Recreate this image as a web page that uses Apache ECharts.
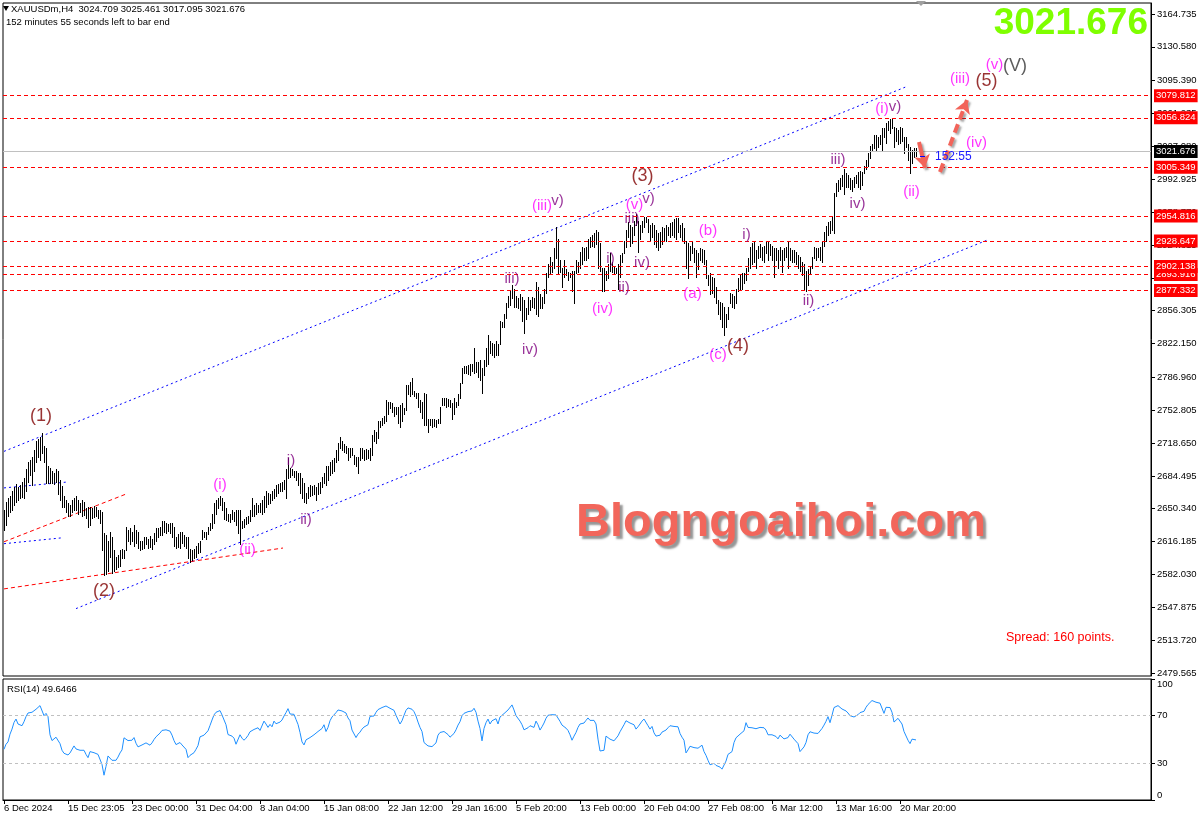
<!DOCTYPE html>
<html>
<head>
<meta charset="utf-8">
<title>XAUUSDm H4</title>
<script src="https://cdn.jsdelivr.net/npm/echarts@6/dist/echarts.min.js"></script>
<style>
html,body{margin:0;padding:0;background:#fff;overflow:hidden}
#chart{width:1202px;height:824px}
</style>
</head>
<body>
<div id="chart"></div>
<script>
// ---------------- DATA ----------------
const symbolName = 'XAUUSDm,H4';
const lastBarOHLC = [3024.709, 3025.461, 3017.095, 3021.676];
const lastPrice = 3021.676;
const countdown = '152:55';
const countdownText = '152 minutes 55 seconds left to bar end';
const spreadPoints = 160;
const rsiPeriod = 14;
const rsiLast = 49.6466;

const xLabels = ['6 Dec 2024','15 Dec 23:05','23 Dec 00:00','31 Dec 04:00','8 Jan 04:00','15 Jan 08:00','22 Jan 12:00','29 Jan 16:00','5 Feb 20:00','13 Feb 00:00','20 Feb 04:00','27 Feb 08:00','6 Mar 12:00','13 Mar 16:00','20 Mar 20:00'];
const xLabelStep = 32;
const priceTicks = [3164.735,3130.580,3095.390,3061.235,3027.080,2992.925,2958.770,2924.615,2890.460,2856.305,2822.150,2786.960,2752.805,2718.650,2684.495,2650.340,2616.185,2582.030,2547.875,2513.720,2479.565];
const rsiTicks = [0, 30, 70, 100];
const rsiLevels = [30, 70];
const levelLines = [3079.812, 3056.824, 3005.349, 2954.816, 2928.647, 2893.916, 2902.138, 2877.332];

const highs = [
2649,2657,2662,2664,2669,2673,2676,2673,2675,2678,
2682,2692,2699,2701,2704,2711,2721,2723,2725,2729,
2716,2713,2695,2693,2690,2688,2692,2690,2680,2674,
2664,2659,2656,2654,2659,2662,2664,2659,2656,2659,
2657,2651,2652,2652,2651,2653,2652,2649,2649,2647,
2625,2623,2617,2626,2621,2607,2600,2602,2607,2609,
2607,2631,2628,2630,2626,2633,2628,2626,2617,2617,
2621,2621,2619,2622,2619,2625,2630,2630,2631,2638,
2638,2636,2634,2635,2636,2631,2621,2624,2626,2626,
2623,2621,2621,2609,2607,2609,2612,2615,2617,2628,
2626,2626,2631,2636,2645,2656,2659,2662,2664,2662,
2657,2651,2645,2645,2649,2647,2649,2649,2649,2638,
2640,2642,2643,2649,2662,2654,2656,2654,2656,2659,
2664,2669,2667,2666,2669,2671,2675,2676,2677,2678,
2680,2692,2703,2693,2692,2690,2690,2688,2687,2682,
2677,2667,2673,2675,2674,2675,2673,2677,2678,2683,
2687,2695,2695,2699,2701,2703,2711,2719,2725,2721,
2718,2716,2714,2714,2713,2706,2704,2704,2713,2713,
2711,2712,2711,2713,2727,2732,2730,2742,2742,2745,
2747,2763,2761,2761,2760,2756,2756,2756,2758,2760,
2755,2779,2779,2782,2786,2773,2771,2771,2763,2761,
2771,2770,2744,2744,2744,2744,2743,2744,2756,2765,
2765,2765,2764,2763,2760,2766,2761,2770,2781,2797,
2799,2799,2800,2801,2801,2817,2803,2803,2805,2797,
2805,2817,2831,2825,2823,2822,2825,2822,2846,2844,
2853,2864,2872,2877,2883,2879,2872,2869,2874,2870,
2867,2859,2870,2867,2870,2869,2886,2881,2874,2870,
2879,2895,2905,2912,2907,2921,2943,2931,2909,2901,
2909,2900,2896,2895,2898,2898,2909,2907,2917,2922,
2921,2922,2931,2933,2935,2937,2940,2938,2927,2901,
2901,2898,2905,2916,2907,2903,2901,2905,2914,2916,
2929,2940,2948,2945,2943,2950,2957,2950,2945,2950,
2954,2954,2952,2945,2947,2945,2940,2937,2938,2943,
2942,2945,2943,2947,2948,2952,2953,2953,2945,2947,
2942,2929,2927,2924,2929,2921,2919,2916,2921,2920,
2919,2909,2893,2895,2891,2890,2881,2867,2865,2864,
2860,2853,2860,2875,2874,2872,2879,2890,2893,2895,
2895,2901,2911,2922,2927,2929,2919,2924,2926,2922,
2924,2929,2929,2926,2924,2921,2921,2919,2922,2919,
2921,2922,2929,2921,2919,2919,2917,2914,2912,2907,
2905,2898,2900,2903,2912,2922,2921,2921,2922,2929,
2938,2944,2948,2950,2955,2979,2989,2992,2994,2997,
3004,2999,2997,2994,2992,2995,2997,3000,3002,3000,
3007,3013,3020,3028,3030,3039,3039,3037,3039,3046,
3046,3051,3054,3056,3056,3047,3046,3044,3047,3046,
3037,3037,3030,3026,3023,3025,3025.461
];
const lows = [
2628,2633,2643,2647,2649,2654,2657,2659,2662,2663,
2661,2669,2678,2685,2675,2690,2699,2704,2701,2708,
2699,2677,2677,2677,2677,2676,2678,2666,2659,2652,
2652,2647,2643,2643,2647,2649,2649,2645,2647,2643,
2644,2641,2631,2633,2641,2642,2643,2641,2636,2607,
2581,2583,2586,2600,2584,2586,2588,2590,2591,2599,
2599,2607,2617,2614,2617,2612,2615,2610,2607,2609,
2610,2614,2610,2611,2609,2614,2617,2621,2623,2623,
2626,2625,2627,2625,2621,2612,2610,2611,2610,2615,
2612,2610,2599,2595,2597,2599,2600,2604,2605,2619,
2621,2619,2624,2628,2630,2636,2645,2651,2654,2649,
2640,2639,2638,2637,2640,2638,2633,2625,2614,2630,
2631,2634,2636,2638,2643,2643,2645,2647,2647,2645,
2647,2652,2655,2656,2659,2661,2664,2667,2669,2669,
2671,2662,2682,2683,2685,2683,2680,2675,2667,2662,
2657,2656,2661,2664,2665,2666,2659,2666,2667,2673,
2677,2675,2680,2685,2687,2690,2699,2701,2713,2711,
2709,2708,2701,2704,2706,2697,2695,2688,2701,2703,
2701,2702,2703,2701,2706,2721,2719,2724,2735,2737,
2739,2742,2749,2755,2751,2747,2749,2739,2735,2742,
2749,2753,2770,2768,2770,2768,2765,2756,2751,2745,
2737,2737,2730,2737,2735,2736,2735,2740,2740,2758,
2758,2756,2757,2756,2744,2749,2756,2758,2766,2781,
2791,2791,2790,2789,2794,2791,2792,2787,2784,2771,
2789,2799,2801,2812,2810,2808,2810,2810,2822,2839,
2839,2849,2860,2862,2869,2860,2860,2859,2857,2846,
2833,2848,2853,2857,2860,2859,2853,2851,2859,2859,
2864,2875,2891,2895,2896,2901,2911,2895,2896,2881,
2891,2893,2888,2891,2877,2864,2895,2896,2901,2905,
2909,2909,2911,2922,2924,2922,2926,2901,2898,2877,
2877,2888,2890,2898,2896,2895,2895,2879,2891,2907,
2916,2922,2933,2924,2927,2935,2945,2917,2931,2938,
2943,2948,2938,2929,2933,2926,2922,2919,2922,2926,
2929,2929,2935,2933,2935,2933,2931,2938,2933,2929,
2927,2901,2890,2909,2916,2907,2891,2900,2909,2907,
2905,2890,2883,2874,2875,2870,2864,2853,2848,2839,
2831,2839,2848,2864,2860,2859,2864,2877,2879,2879,
2885,2888,2898,2901,2905,2907,2901,2911,2912,2909,
2907,2916,2909,2914,2909,2891,2909,2901,2909,2896,
2909,2912,2901,2909,2907,2907,2905,2901,2898,2893,
2879,2877,2883,2895,2901,2911,2909,2912,2909,2907,
2924,2929,2935,2937,2940,2937,2976,2981,2983,2986,
2978,2985,2985,2983,2981,2985,2989,2985,2983,2987,
2999,3004,3007,3015,3023,3025,3023,3026,3030,3023,
3037,3031,3044,3041,3046,3026,3033,3030,3031,3033,
3020,3026,3013,2999,3010,3016,3017.095
];
const rsi = [
41.9,46.1,48.0,54.4,58.6,64.1,66.9,62.8,63.3,61.4,
64.7,68.9,71.9,71.6,72.5,73.6,75.0,76.4,78.0,77.7,
69.7,71.6,68.9,53.9,49.1,50.5,51.9,52.2,46.6,41.1,
38.6,37.2,37.2,38.9,40.5,44.7,42.2,40.8,41.1,40.5,
41.1,37.7,35.0,40.0,40.5,39.1,39.4,37.7,37.2,29.4,
20.5,27.8,36.4,37.7,32.8,31.4,32.8,35.5,38.9,41.4,
51.4,50.0,49.1,50.0,49.4,51.6,46.9,43.9,43.6,45.5,
46.4,47.2,45.8,45.3,47.2,50.0,52.2,53.6,55.3,57.5,
58.9,58.0,57.8,56.9,53.6,49.1,45.8,46.6,47.5,45.5,
44.4,41.9,35.0,36.9,37.7,39.1,41.9,45.0,52.2,53.6,
53.6,54.1,57.2,61.6,66.1,70.3,72.5,73.3,73.9,70.3,
68.9,62.2,54.1,53.0,52.8,51.1,46.1,47.2,53.9,51.1,
49.4,51.1,53.3,56.4,57.8,58.3,59.1,59.7,57.5,58.6,
65.2,62.8,60.0,62.5,60.5,65.2,63.0,64.1,64.4,66.1,
69.4,72.2,75.5,71.1,70.0,70.8,66.6,62.5,55.8,48.0,
45.5,49.7,50.8,51.6,52.2,53.9,55.3,56.6,57.5,59.1,
62.2,56.6,60.0,65.5,68.6,70.0,72.2,74.4,74.4,73.6,
72.8,71.9,67.8,65.5,57.8,56.9,51.6,54.4,56.1,58.6,
60.3,61.1,62.2,69.1,70.3,69.4,72.5,74.7,75.5,76.4,
76.6,77.7,78.0,75.8,76.4,74.1,70.0,68.9,62.8,65.5,
70.0,74.1,76.1,75.8,75.0,73.0,69.4,64.4,60.0,56.6,
47.5,47.5,44.7,44.7,44.1,44.4,47.2,53.6,55.8,57.2,
56.6,55.8,54.1,51.9,53.3,55.0,58.0,61.9,64.7,69.7,
71.6,72.5,73.0,73.0,73.6,75.8,72.5,65.2,59.1,48.9,
59.1,63.9,66.9,62.8,65.5,65.8,67.2,62.8,68.6,70.0,
71.4,73.0,74.4,75.8,78.6,74.4,69.7,68.9,65.2,62.2,
58.0,58.3,59.7,61.4,62.8,60.0,65.2,62.2,57.8,60.5,
63.6,67.5,70.0,71.1,70.5,69.7,70.3,69.7,65.0,61.9,
61.4,59.4,57.5,53.9,49.4,52.8,55.8,60.0,62.8,64.1,
63.6,65.8,67.8,65.8,66.6,65.8,62.8,50.3,40.5,41.9,
41.1,52.8,51.6,50.3,49.4,48.9,50.5,53.0,56.4,57.8,
62.2,65.5,64.1,63.6,62.2,62.2,58.6,60.5,62.8,65.2,
66.9,67.8,61.4,58.6,60.8,55.5,52.8,51.9,53.6,56.1,
57.2,57.8,59.7,61.4,62.2,60.8,61.1,60.5,55.0,51.9,
49.4,38.9,41.4,44.4,43.9,43.3,41.9,42.8,43.6,45.3,
40.0,36.9,32.8,29.1,28.9,30.3,28.6,27.5,27.2,25.5,
26.1,32.2,37.7,38.3,40.0,47.5,51.4,52.8,54.4,53.0,
57.2,63.9,60.0,58.9,59.7,58.6,58.9,60.0,60.0,60.0,
59.7,57.8,53.9,52.5,53.9,54.4,52.5,50.5,53.6,53.3,
50.5,49.1,51.6,54.4,53.0,50.3,48.9,46.6,40.0,38.9,
43.9,47.5,53.9,56.4,56.6,55.3,55.0,55.0,56.4,59.1,
61.9,65.0,68.9,63.9,70.0,76.4,77.2,78.0,78.6,75.2,
75.0,73.6,71.9,69.7,69.4,68.6,68.9,70.5,72.2,72.5,
73.3,76.6,78.9,80.3,82.2,81.1,80.8,79.4,80.0,79.4,
71.6,76.6,77.7,76.4,72.5,64.4,65.8,67.5,67.8,62.8,
56.6,55.3,49.4,46.6,50.3,51.1,49.6466
];

// Elliott-wave annotations (anchor = bar index, price)
const waveText  = ['(1)','(2)','(i)','(ii)','i)','ii)','iii)','iv)','(iii)','v)','(iv)','i)','ii)','iii)','(v)','v)','(3)','iv)','(b)','(a)','(c)','(4)','i)','ii)','iii)','iv)','(i)','v)','(ii)','(iv)','(iii)','(5)','(v)','(V)'];
const waveBar   = [18.5,50,108,121.75,143.5,151,254,263,269,276.75,299.25,303.25,310,314,315.25,322.25,319.25,319,352,344.25,357,367,371.25,402.25,417,426.75,439,445.5,453.75,486.25,478,491.25,495.25,505.5];
const wavePrice = [2747,2565,2675,2607.5,2700,2639,2889.7,2815.4,2965,2970.3,2858.5,2910.5,2880.4,2951.6,2966.2,2972.9,2996.3,2905.9,2939.1,2874.1,2810.7,2819.6,2935.5,2866.9,3012.9,2967.2,3066.5,3068.6,2979.7,3031.1,3097.7,3094.6,3111.7,3110.2];
const waveDegree = ['P','P','m','m','s','s','s','s','m','s','m','s','s','s','m','s','P','s','m','m','m','P','s','s','s','s','m','s','m','m','m','P','m','C'];

// trend / channel lines: [bar1, bar2], [price1, price2]
const trendBars   = [[0,451],[36,492],[0,31],[0,28.5],[0,61.5],[0,139.5]];
const trendPrices = [[2710,3089],[2546.5,2930],[2672,2678],[2614,2620],[2616,2666],[2567,2609.5]];
const trendKind   = ['blue','blue','blue','blue','red','red'];

// projection arrows
const arrowBars   = [[457.5,460.5],[468,481.5]];
const arrowPrices = [[3031.7,3004.6],[3000.5,3075.3]];
const arrowKind   = ['solid','dashed'];

// ---------------- LAYOUT / STYLE ----------------
const SLOTS = 574;              // bar slots incl. right shift
const PMIN = 2476.44, PMAX = 3176.17;
const FONT = '"Liberation Sans", Arial, sans-serif';
const FS = 9.5;
const degreeColor = {P:'#800000', m:'#FF00FF', s:'#800080', C:'#333333'};
const degreeSize  = {P:18, m:15, s:15, C:18};

const labelAt = {};
xLabels.forEach((t,k)=>{ labelAt[k*xLabelStep] = t; });
const labelIdx = Object.keys(labelAt).map(Number);

const chart = echarts.init(document.getElementById('chart'), null, {renderer:'canvas'});

const barSeries = {
  type:'custom', xAxisIndex:0, yAxisIndex:0, silent:true, z:4,
  data: highs.map((h,i)=>[i, lows[i], h]),
  encode:{x:0, y:[1,2]},
  renderItem:(params, api)=>{
    const top = api.coord([api.value(0), api.value(2)]);
    const bot = api.coord([api.value(0), api.value(1)]);
    const x = Math.round(top[0]) + 0.5;
    return {type:'line', shape:{x1:x, y1:Math.round(top[1]), x2:x, y2:Math.round(bot[1])+1},
            style:{stroke:'#000', lineWidth:1}};
  }
};

const levelSeries = {
  type:'line', xAxisIndex:0, yAxisIndex:0, data:[], silent:true, z:3,
  markLine:{
    silent:true, symbol:'none', animation:false,
    data: [
      ...levelLines.map(v=>({yAxis:v, lineStyle:{color:'#FF0000', type:[4,3], width:1},
        label:{show:true, position:'end', distance:3, formatter:()=>v.toFixed(3), color:'#fff',
          backgroundColor:'#FF0000', padding:[2,2,1,2], fontSize:FS, fontFamily:FONT}})),
      {yAxis:lastPrice, lineStyle:{color:'#C0C0C0', type:'solid', width:1},
        label:{show:true, position:'end', distance:3, formatter:()=>lastPrice.toFixed(3), color:'#fff',
          backgroundColor:'#000', padding:[2,2,1,2], fontSize:FS, fontFamily:FONT}}
    ]
  }
};

const trendSeries = trendBars.map((b,k)=>({
  type:'line', xAxisIndex:0, yAxisIndex:0, silent:true, z:3, showSymbol:false, symbol:'none',
  data:[[b[0], trendPrices[k][0]],[b[1], trendPrices[k][1]]],
  lineStyle:{color: trendKind[k]==='blue' ? '#0000FF' : '#FF0000', width:1, type: trendKind[k]==='blue' ? [2,3] : [4,3]}
}));

const arrowSeries = {
  type:'line', xAxisIndex:0, yAxisIndex:0, data:[], silent:true, z:7,
  markLine:{
    silent:true, animation:false, symbol:['none','arrow'], symbolSize:[12,13],
    label:{show:false},
    data: arrowBars.map((b,k)=>[
      {coord:[b[0], arrowPrices[k][0]], lineStyle:{color:'#F2645A', width:4, type: arrowKind[k]==='dashed' ? [9,5] : 'solid',
        shadowColor:'rgba(60,60,60,0.45)', shadowBlur:2, shadowOffsetX:2, shadowOffsetY:2}},
      {coord:[b[1], arrowPrices[k][1]]}
    ])
  }
};

const waveSeries = {
  type:'scatter', xAxisIndex:0, yAxisIndex:0, silent:true, z:8, symbolSize:0,
  data: waveText.map((t,k)=>({
    value:[waveBar[k], wavePrice[k]],
    label:{show:true, position:'inside', formatter:t, color:degreeColor[waveDegree[k]],
      fontSize:degreeSize[waveDegree[k]], fontFamily:FONT}
  }))
};

const rsiSeries = {
  type:'line', xAxisIndex:1, yAxisIndex:1, silent:true, showSymbol:false, symbol:'none',
  data: rsi.map((v,i)=>[i,v]),
  lineStyle:{color:'#1E90FF', width:1},
  markLine:{silent:true, symbol:'none', animation:false, label:{show:false},
    data: rsiLevels.map(v=>({yAxis:v})), lineStyle:{color:'#C0C0C0', type:[3,3], width:1}}
};

const axisText = {color:'#000', fontSize:FS, fontFamily:FONT};

const option = {
  animation:false,
  backgroundColor:'#fff',
  grid:[
    {left:3, right:51, top:3, height:673, show:true, borderColor:'#000', borderWidth:1, backgroundColor:'transparent', outerBoundsMode:'none'},
    {left:3, right:51, top:679, height:121, show:true, borderColor:'#000', borderWidth:1, backgroundColor:'transparent', outerBoundsMode:'none'}
  ],
  xAxis:[
    {type:'value', gridIndex:0, min:-0.5, max:SLOTS-0.5, show:false, splitLine:{show:false},
      axisLine:{show:false, onZero:false}, axisTick:{show:false}, axisLabel:{show:false}},
    {type:'value', gridIndex:1, min:-0.5, max:SLOTS-0.5, splitLine:{show:false},
      axisLine:{show:true, onZero:false, lineStyle:{color:'#000'}},
      axisTick:{show:true, customValues:labelIdx, length:4, inside:false, lineStyle:{color:'#000'}},
      axisLabel:Object.assign({show:true, customValues:labelIdx, formatter:(v)=>labelAt[Math.round(v)]||'', align:'left', margin:3}, axisText)}
  ],
  yAxis:[
    {type:'value', gridIndex:0, position:'right', min:PMIN, max:PMAX, splitLine:{show:false},
      axisLine:{show:true, onZero:false, lineStyle:{color:'#000'}},
      axisTick:{show:true, customValues:priceTicks, length:4, lineStyle:{color:'#000'}},
      axisLabel:Object.assign({show:true, customValues:priceTicks, formatter:(v)=>v.toFixed(3), margin:6}, axisText)},
    {type:'value', gridIndex:1, position:'right', min:0, max:100, splitLine:{show:false},
      axisLine:{show:true, onZero:false, lineStyle:{color:'#000'}},
      axisTick:{show:true, customValues:rsiTicks, length:4, lineStyle:{color:'#000'}},
      axisLabel:Object.assign({show:true, customValues:rsiTicks, formatter:(v)=>String(v), margin:6,
        verticalAlignMaxLabel:'top', verticalAlignMinLabel:'bottom'}, axisText)}
  ],
  series:[levelSeries, ...trendSeries, barSeries, arrowSeries, waveSeries, rsiSeries],
  graphic:[
    {type:'polygon', z:20, shape:{points:[[3,6],[9,6],[6,11]]}, style:{fill:'#000'}},
    {type:'text', z:20, x:11, y:9, style:{text:symbolName+'  '+lastBarOHLC.map(v=>v.toFixed(3)).join(' '), font:FS+'px '+FONT, fill:'#000', verticalAlign:'middle'}},
    {type:'text', z:20, x:6, y:22, style:{text:countdownText, font:FS+'px '+FONT, fill:'#000', verticalAlign:'middle'}},
    {type:'polygon', z:20, shape:{points:[[916,1],[926,1],[921,6]]}, style:{fill:'#A0A0A0'}},
    {type:'text', z:20, x:1148, y:24, style:{text:lastPrice.toFixed(3), font:'bold 37px '+FONT, fill:'#7FFF00', align:'right', verticalAlign:'middle'}},
    {type:'text', z:1, x:781, y:523, style:{text:'Blogngoaihoi.com', font:'bold 47px '+FONT, fill:'#F2665B', align:'center', verticalAlign:'middle',
       textShadowColor:'rgba(80,80,80,0.6)', textShadowOffsetX:3, textShadowOffsetY:3, textShadowBlur:2}},
    {type:'text', z:20, x:1006, y:638, style:{text:'Spread: '+spreadPoints+' points.', font:'12.5px '+FONT, fill:'#FF0000', verticalAlign:'middle'}},
    {type:'rect', z:20, shape:{x:920, y:156, width:5, height:1}, style:{fill:'#0000FF'}},
    {type:'text', z:20, x:935, y:157, style:{text:countdown, font:'12px '+FONT, fill:'#1A1AFF', verticalAlign:'middle'}},
    {type:'text', z:20, x:7, y:689, style:{text:'RSI('+rsiPeriod+') '+rsiLast.toFixed(4), font:FS+'px '+FONT, fill:'#000', verticalAlign:'middle'}}
  ]
};
chart.setOption(option);
</script>
</body>
</html>
